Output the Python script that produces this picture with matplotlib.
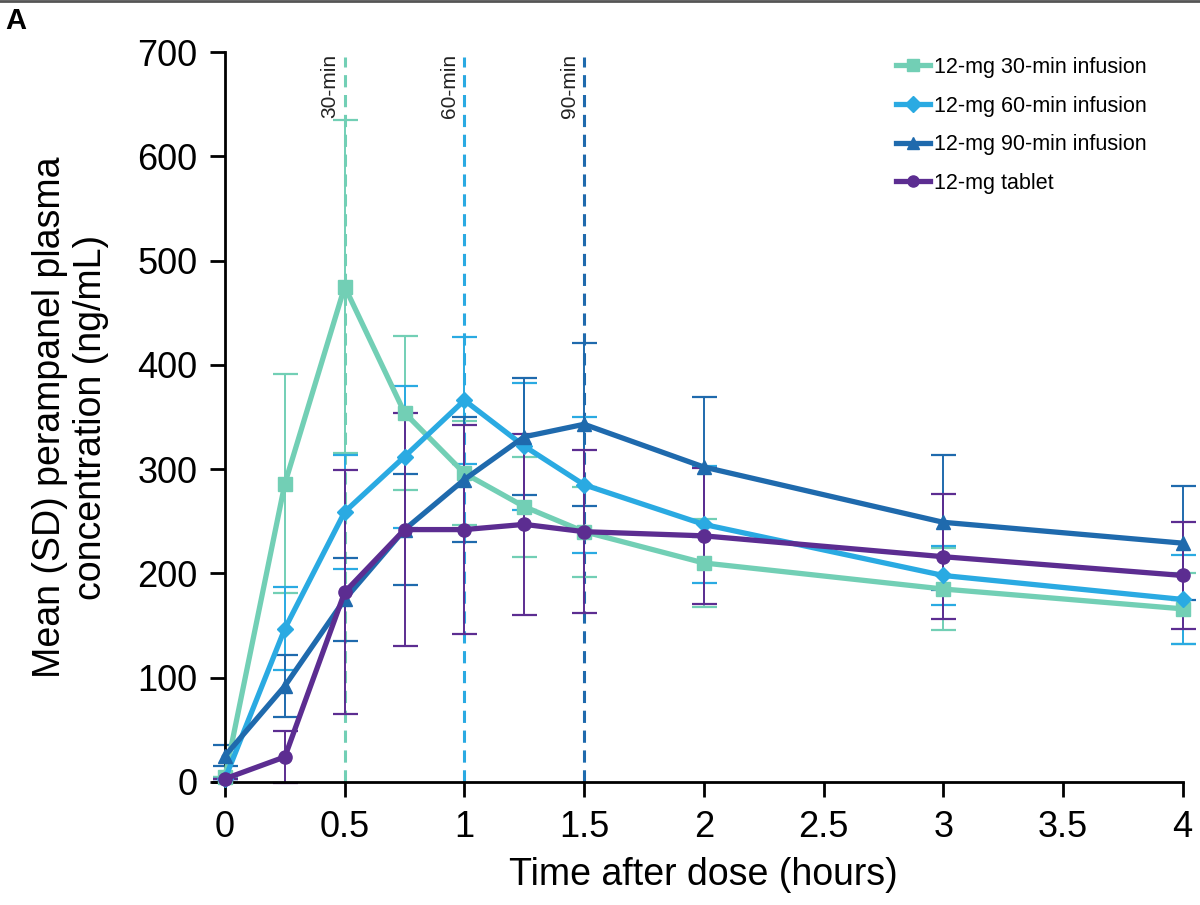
import matplotlib
matplotlib.use("Agg")
import matplotlib.pyplot as plt
from matplotlib.lines import Line2D

plt.rcParams['font.family'] = ['Liberation Sans', 'DejaVu Sans']

# sampling times (hours)
times = [0, 0.25, 0.5, 0.75, 1.0, 1.25, 1.5, 2, 3, 4]

# mean concentrations (ng/mL)
inf30_mean = [5, 286, 475, 354, 296, 264, 240, 210, 185, 166]
inf60_mean = [3, 147, 259, 312, 366, 322, 285, 247, 198, 175]
inf90_mean = [25, 92, 175, 242, 290, 331, 343, 302, 249, 229]
tablet_mean = [3, 24, 182, 242, 242, 247, 240, 236, 216, 198]

# standard deviations
inf30_sd = [0, 105, 160, 74, 50, 48, 43, 42, 39, 34]
inf60_sd = [0, 40, 55, 68, 61, 61, 65, 56, 28, 43]
inf90_sd = [10, 30, 40, 53, 60, 56, 78, 67, 65, 55]
tablet_sd = [0, 25, 117, 112, 100, 87, 78, 65, 60, 51]

labels = ['12-mg 30-min infusion', '12-mg 60-min infusion',
          '12-mg 90-min infusion', '12-mg tablet']
colors = ['#72cfb5', '#2aaae2', '#1f6aad', '#5c2d91']
markers = ['s', 'D', '^', 'o']

infusion_ends = [0.5, 1.0, 1.5]
infusion_tags = ['30-min', '60-min', '90-min']

fig = plt.figure(figsize=(12, 9.05), dpi=100)
ax = fig.add_axes([0.1875, 0.136, 0.798, 0.8065])

# end-of-infusion markers
for xe, tag, c in zip(infusion_ends, infusion_tags, colors[:3]):
    ax.plot([xe, xe], [0, 695], ls=(0, (4, 2.5)), color=c, lw=2.2, zorder=1)
    ax.text(xe - 0.022, 698, tag, rotation=90, ha='right', va='top',
            fontsize=15, color='#222222')

series = [(inf30_mean, inf30_sd), (inf60_mean, inf60_sd),
          (inf90_mean, inf90_sd), (tablet_mean, tablet_sd)]
for (m, sd), lab, c, mk in zip(series, labels, colors, markers):
    ax.errorbar(times, m, yerr=sd, fmt='none', ecolor=c, elinewidth=1.4,
                capsize=9, capthick=1.6, zorder=2, clip_on=False)
    ms = 9.5 if mk != 'D' else 8.5
    ax.plot(times, m, color=c, lw=3.8, marker=mk, markersize=ms,
            label=lab, zorder=3, clip_on=False)

ax.set_xlim(0, 4)
ax.set_ylim(0, 700)
ax.set_xticks([0, 0.5, 1, 1.5, 2, 2.5, 3, 3.5, 4])
ax.set_xticklabels(['0', '0.5', '1', '1.5', '2', '2.5', '3', '3.5', '4'])
ax.set_yticks(range(0, 701, 100))
ax.spines['top'].set_visible(False)
ax.spines['right'].set_visible(False)
ax.spines['left'].set_linewidth(2)
ax.spines['bottom'].set_linewidth(2)
ax.spines['bottom'].set_bounds(-0.05, 4)
ax.tick_params(axis='both', direction='out', length=11, width=2,
               labelsize=26, pad=9)

ax.set_xlabel('Time after dose (hours)', fontsize=27, labelpad=9)
ax.set_ylabel('Mean (SD) perampanel plasma\nconcentration (ng/mL)',
              fontsize=27, labelpad=20, linespacing=1.2)

leg = ax.legend(loc='upper right', bbox_to_anchor=(0.972, 1.005), frameon=False,
                fontsize=15.5, handlelength=1.6, handletextpad=0.2,
                labelspacing=0.82, borderaxespad=0)
for h in leg.legend_handles:
    h.set_markersize(8)

fig.text(0.004, 0.992, 'A', fontsize=21, fontweight='bold', va='top', ha='left')
fig.add_artist(Line2D([0, 1], [0.999, 0.999], color='#555555', lw=2,
                      transform=fig.transFigure))

fig.savefig('out.png', dpi=100)
